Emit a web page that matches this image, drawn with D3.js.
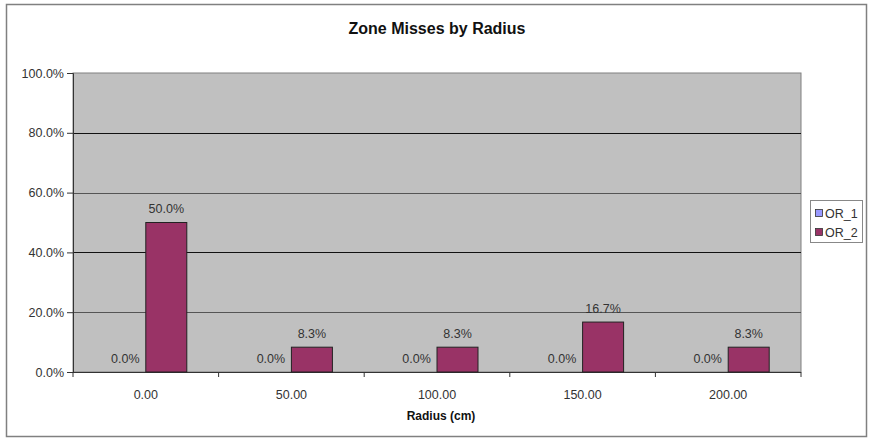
<!DOCTYPE html>
<html>
<head>
<meta charset="utf-8">
<script src="https://cdn.jsdelivr.net/npm/d3@7"></script>
<style>
  body { margin: 0; background: #fff; }
  svg text { font-family: Arial, "Liberation Sans", sans-serif; }
</style>
</head>
<body>
<svg id="chart" width="869" height="440"></svg>
<script>
const categories = ["0.00", "50.00", "100.00", "150.00", "200.00"];
const seriesNames = ["OR_1", "OR_2"];
const or1Values = [0, 0, 0, 0, 0];
const or2Values = [50.0, 8.3, 8.3, 16.7, 8.3];
const yTicks = [0, 20, 40, 60, 80, 100];
const colors = ["#9999ff", "#993366"];

const svg = d3.select("#chart");
const margin = { left: 73, top: 73, right: 801, bottom: 372 };
const fs = 12.5;

// outer border
svg.append("rect").attr("x", 6.5).attr("y", 4.5).attr("width", 860).attr("height", 432)
  .attr("fill", "#fff").attr("stroke", "#808080").attr("stroke-width", 1.5);

const x = d3.scaleBand().domain(categories).range([margin.left, margin.right]);
const y = d3.scaleLinear().domain([0, 100]).range([margin.bottom, margin.top]);

// plot area
svg.append("rect").attr("x", margin.left).attr("y", margin.top)
  .attr("width", margin.right - margin.left).attr("height", margin.bottom - margin.top)
  .attr("fill", "#c0c0c0").attr("stroke", "#808080").attr("stroke-width", 1);

// gridlines
svg.append("g").selectAll("line").data(yTicks.filter(d => d > 0 && d < 100)).join("line")
  .attr("x1", margin.left).attr("x2", margin.right)
  .attr("y1", d => Math.round(y(d)) + 0.5).attr("y2", d => Math.round(y(d)) + 0.5)
  .attr("stroke", d => (d === 80 || d === 40) ? "#111" : "#555").attr("stroke-width", 1);

// y axis
const yAxis = d3.axisLeft(y).tickValues(yTicks).tickFormat(d => d.toFixed(1) + "%").tickSize(6).tickPadding(3);
const gy = svg.append("g").attr("transform", `translate(${margin.left},0)`).call(yAxis);
gy.select(".domain").attr("stroke", "#333");
gy.selectAll(".tick line").attr("stroke", "#333");
gy.selectAll("text").attr("font-size", fs).attr("fill", "#333");

// x axis
const gx = svg.append("g").attr("transform", `translate(0,${margin.bottom})`);
gx.append("line").attr("x1", margin.left).attr("x2", margin.right).attr("y1", 0.5).attr("y2", 0.5).attr("stroke", "#333");
const bounds = categories.map(c => x(c)).concat([x(categories[categories.length - 1]) + x.bandwidth()]);
gx.selectAll("line.tk").data(bounds).join("line").attr("class", "tk")
  .attr("x1", d => d).attr("x2", d => d).attr("y1", 0).attr("y2", 5).attr("stroke", "#333");
gx.selectAll("text").data(categories).join("text")
  .attr("x", d => x(d) + x.bandwidth() / 2).attr("y", 26.5)
  .attr("text-anchor", "middle").attr("font-size", fs).attr("fill", "#333").text(d => d);

// bars
const barW = 41;
const xs = d3.scaleBand().domain(seriesNames).range([0, barW * 2]);
const data = [or1Values, or2Values];
seriesNames.forEach((s, si) => {
  const vals = data[si];
  const g = svg.append("g");
  g.selectAll("rect").data(categories).join("rect")
    .attr("x", (c) => x(c) + x.bandwidth() / 2 - barW + xs(s))
    .attr("y", (c, i) => y(vals[i]))
    .attr("width", xs.bandwidth())
    .attr("height", (c, i) => y(0) - y(vals[i]))
    .attr("fill", colors[si]).attr("stroke", "#222").attr("stroke-width", vals.some(v => v > 0) ? 1 : 0);
  g.selectAll("text").data(categories).join("text")
    .attr("x", (c) => x(c) + x.bandwidth() / 2 - barW + xs(s) + xs.bandwidth() / 2)
    .attr("y", (c, i) => y(vals[i]) - 9.5)
    .attr("text-anchor", "middle").attr("font-size", fs).attr("fill", "#333")
    .text((c, i) => vals[i].toFixed(1) + "%");
});

// title
svg.append("text").attr("x", 437).attr("y", 34).attr("text-anchor", "middle")
  .attr("font-size", 16).attr("font-weight", "bold").attr("fill", "#111").text("Zone Misses by Radius");

// x axis title
svg.append("text").attr("x", 441).attr("y", 419.5).attr("text-anchor", "middle")
  .attr("font-size", 12).attr("font-weight", "bold").attr("fill", "#111").text("Radius (cm)");

// legend
const lg = svg.append("g");
lg.append("rect").attr("x", 810.5).attr("y", 200.5).attr("width", 52).attr("height", 42)
  .attr("fill", "#fff").attr("stroke", "#888");
seriesNames.forEach((s, i) => {
  lg.append("rect").attr("x", 815.5).attr("y", 209.5 + i * 19).attr("width", 7).attr("height", 7)
    .attr("fill", colors[i]).attr("stroke", "#333").attr("stroke-width", 0.8);
  lg.append("text").attr("x", 825).attr("y", 217.5 + i * 19).attr("font-size", 12.5).attr("fill", "#333").text(s);
});
</script>
</body>
</html>
